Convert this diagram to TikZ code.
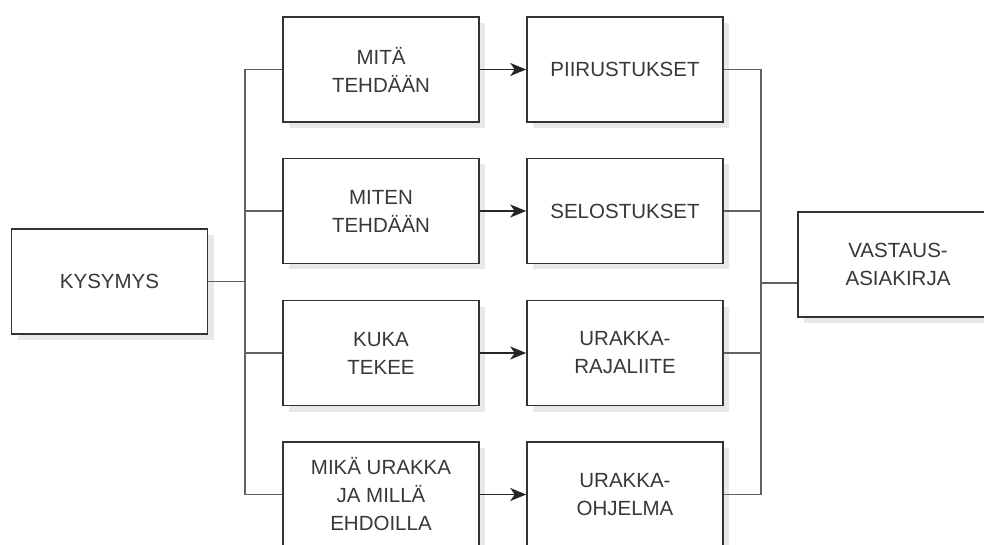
\documentclass[tikz,border=0pt]{standalone}
\usepackage{fontspec}
\setmainfont{Liberation Sans}
\usetikzlibrary{arrows.meta,shadows}

\tikzset{
    box/.style={draw=black!80, line width=1.6pt, fill=white, text=black!78,
        minimum width=196pt, minimum height=105pt, align=center, inner sep=2pt,
        font=\fontsize{20.5}{28}\selectfont,
        drop shadow={shadow xshift=6pt, shadow yshift=-6pt, fill=black!9, opacity=1}},
    link/.style={draw=black!62, line width=1.7pt},
    arr/.style={draw=black!85, line width=1.7pt, -{Stealth[length=16pt,width=13pt,inset=4.5pt]}}
}

\begin{document}
\begin{tikzpicture}[x=1pt,y=1pt]
        \useasboundingbox (0,0) rectangle (984,544);
        %% boxes
        \node[box] (kys) at (109.5,262.5) {KYSYMYS};
        \node[box] (q1) at (381,474.5) {MITÄ\\TEHDÄÄN};
        \node[box] (q2) at (381,333) {MITEN\\TEHDÄÄN};
        \node[box] (q3) at (381,191) {KUKA\\TEKEE};
        \node[box] (q4) at (381,49.5) {MIKÄ URAKKA\\JA MILLÄ\\EHDOILLA};
        \node[box] (a1) at (625,474.5) {PIIRUSTUKSET};
        \node[box] (a2) at (625,333) {SELOSTUKSET};
        \node[box] (a3) at (625,191) {URAKKA-\\RAJALIITE};
        \node[box] (a4) at (625,49.5) {URAKKA-\\OHJELMA};
        \node[box, minimum width=200pt] (vast) at (898,279.5) {VASTAUS-\\ASIAKIRJA};
        % trunk points
        \coordinate (tl) at (245,262.5);
        \coordinate (tr) at (761,261);
        % connectors
        \draw[link] (kys.east) -- (tl);
        \foreach \i in {1,...,4}{
            \draw[link] (q\i.west) -| (tl);
            \draw[link] (a\i.east) -| (tr);
            \draw[arr] (q\i.east) -- (a\i.west);
        }
        \draw[link] (tr) -- (tr -| vast.west);
    \end{tikzpicture}
\end{document}
